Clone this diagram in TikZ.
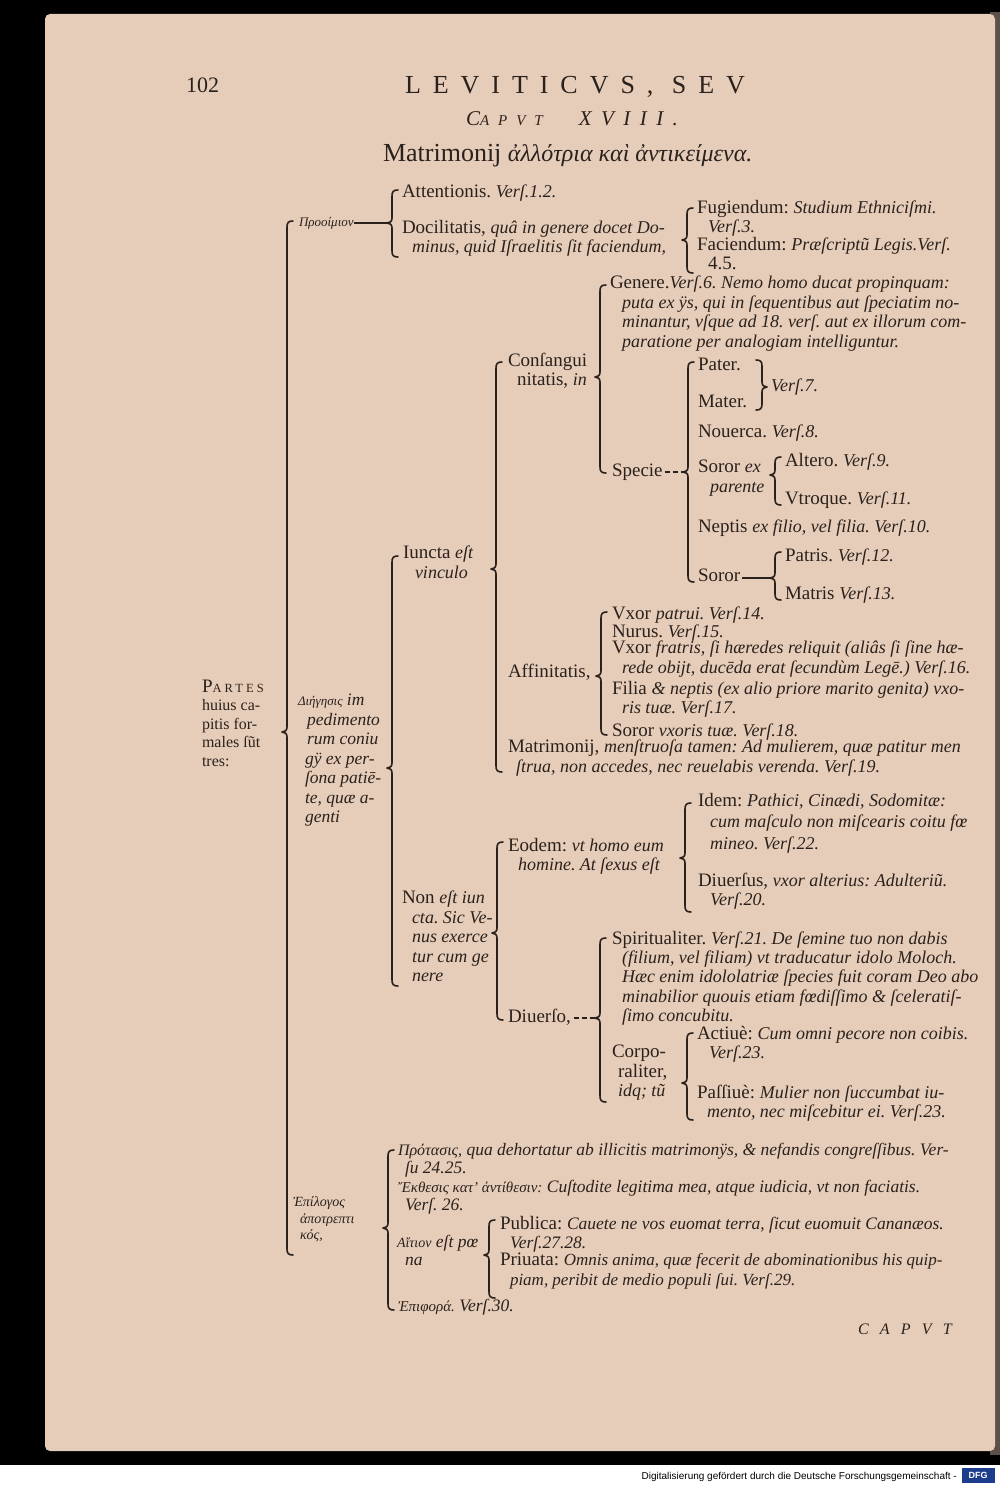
\documentclass[tikz,border=0pt]{standalone}
\usepackage{fontspec}
\setmainfont{Liberation Serif}
\newfontfamily\sansf{Liberation Sans}
\definecolor{ink}{HTML}{2B211C}
\definecolor{paper}{HTML}{E6CDB9}
\definecolor{edgec}{HTML}{5E5048}
\definecolor{dfgblue}{HTML}{1C3D8C}
\frenchspacing
\newcommand\I[1]{{\itshape\fontsize{18}{19.5}\selectfont #1}}
\newcommand\brL[5]{%
 \draw[brk] (#2+6,#3) .. controls (#2+1.5,#3) and (#2,#3+1.5) .. (#2,#3+6) -- (#2,#4-5)
  .. controls (#2,#4-1.5) and (#2-2,#4) .. (#2-5,#4)
  .. controls (#2-2,#4) and (#2,#4+1.5) .. (#2,#4+5) -- (#2,#5-6)
  .. controls (#2,#5-1.5) and (#2+1.5,#5) .. (#2+6,#5);
 \coordinate (#1) at (#2-5,#4);}
\newcommand\brR[5]{%
 \draw[brk] (#2-6,#3) .. controls (#2-1.5,#3) and (#2,#3+1.5) .. (#2,#3+6) -- (#2,#4-5)
  .. controls (#2,#4-1.5) and (#2+2,#4) .. (#2+5,#4)
  .. controls (#2+2,#4) and (#2,#4+1.5) .. (#2,#4+5) -- (#2,#5-6)
  .. controls (#2,#5-1.5) and (#2-1.5,#5) .. (#2-6,#5);
 \coordinate (#1) at (#2+5,#4);}
\tikzset{
 brk/.style={draw=ink, line width=1.6pt, line cap=round, line join=round},
 dl/.style={draw=ink, line width=1.3pt},
 tx/.style={anchor=north west, inner sep=0pt, outer sep=0pt, align=left, text=ink,
   font=\fontsize{19}{19.5}\selectfont, execute at begin node={\rule{0pt}{16pt}}},
 tb/.style={tx, font=\fontsize{17.5}{18.5}\selectfont\itshape},
 hd/.style={anchor=base west, inner sep=0pt, outer sep=0pt, text=ink}
}
\begin{document}
\begin{tikzpicture}[x=1pt,y=-1pt]
\useasboundingbox (0,0) rectangle (1000,1485);
\fill[black] (0,0) rectangle (1000,1465);
\fill[white] (0,1465) rectangle (1000,1485);
\fill[edgec] (990,12) rectangle (1000,1455);
\fill[paper, rounded corners=5pt] (45,14) rectangle (995,1451);
% footer
\node[anchor=base east, inner sep=0pt, font=\sansf\fontsize{10}{10}\selectfont] (ftr) at (957,1479) {Digitalisierung gefördert durch die Deutsche Forschungsgemeinschaft -};
\node[fill=dfgblue, text=white, font=\sansf\bfseries\fontsize{9}{9}\selectfont, minimum width=33pt, minimum height=15pt, inner sep=0pt] (dfg) at (978,1475) {DFG};
% header
\node[hd, font=\fontsize{22}{22}\selectfont] (pg) at (186,93) {102};
\node[hd, font=\fontsize{26}{26}\selectfont\addfontfeature{LetterSpace=46}] (ttl) at (405,94) {LEVITICVS, SEV};
\node[hd, font=\itshape\fontsize{21}{21}\selectfont] (cap) at (466,126) {C{\fontsize{15}{15}\selectfont\addfontfeature{LetterSpace=60}APVT}\hspace{36pt}{\addfontfeature{LetterSpace=45}XVIII.}};
\node[hd, font=\fontsize{26}{26}\selectfont] (mtit) at (383,161) {Matrimonij {\itshape\fontsize{24}{24}\selectfont ἀλλότρια καὶ ἀντικείμενα.}};
% level 0
\node[tx, font=\fontsize{16}{18.5}\selectfont] (partes) at (202,680) {{\fontsize{19}{18.5}\selectfont P}{\fontsize{12.5}{18.5}\selectfont\addfontfeature{LetterSpace=25}ARTES}\\ huius ca-\\ pitis for-\\ males ſũt\\ tres:};
\brL{bmain}{287}{221}{732}{1255}
% proemium
\node[tx, font=\itshape\fontsize{13}{15}\selectfont] (proo) at (299,210) {Προοίμιον};
\brL{bproo}{392}{190}{223}{257}
\draw[dl] (proo.east |- bproo) -- (bproo);
\node[tx] (att) at (402,181) {Attentionis. \I{Verſ.1.2.}};
\node[tx] (doc) at (402,220) {Docilitatis, \I{quâ in genere docet Do-}\\ \hspace*{10pt}\I{minus, quid Iſraelitis ſit faciendum,}};
\brL{bdoc}{687}{208}{240}{273}
\node[tx] (fug) at (697,200) {Fugiendum: \I{Studium Ethniciſmi.}\\ \hspace*{11pt}\I{Verſ.3.}};
\node[tx] (fac) at (697,237) {Faciendum: \I{Præſcriptũ Legis.Verſ.}\\ \hspace*{11pt}4.5.};
% narratio
\node[tx, font=\itshape\fontsize{17.5}{19.5}\selectfont] (dieg) at (298,694) {{\fontsize{13}{19.5}\selectfont Διήγησις} im\\ \hspace*{9pt}pedimento\\ \hspace*{9pt}rum coniu\\ \hspace*{7pt}gÿ ex per-\\ \hspace*{7pt}ſona patiē-\\ \hspace*{7pt}te, quæ a-\\ \hspace*{7pt}genti};
\brL{bdieg}{392}{556}{768}{986}
\node[tx] (iun) at (403,546) {Iuncta \I{eſt}\\ \hspace*{12pt}\I{vinculo}};
\brL{biun}{496}{362}{569}{772}
\node[tx] (non) at (402,891) {Non \I{eſt iun}\\ \hspace*{10pt}\I{cta. Sic Ve-}\\ \hspace*{10pt}\I{nus exerce}\\ \hspace*{10pt}\I{tur cum ge}\\ \hspace*{10pt}\I{nere}};
\brL{bnon}{497}{842}{933}{1020}
% consanguinitas
\node[tx] (cons) at (508,353) {Conſangui\\ \hspace*{9pt}nitatis, \I{in}};
\brL{bcons}{600}{285}{377}{473}
\node[tx] (gen) at (610,276) {Genere.\I{Verſ.6. Nemo homo ducat propinquam:}\\ \hspace*{12pt}\I{puta ex ÿs, qui in ſequentibus aut ſpeciatim no-}\\ \hspace*{12pt}\I{minantur, vſque ad 18. verſ. aut ex illorum com-}\\ \hspace*{12pt}\I{paratione per analogiam intelliguntur.}};
\node[tx] (spec) at (612,460) {Specie};
\brL{bspec}{688}{362}{472}{582}
\draw[dl, dash pattern=on 5pt off 3pt] (spec.east |- bspec) ++(2,0) -- (bspec);
\node[tx] (pater) at (698,354) {Pater.};
\node[tx] (mater) at (698,391) {Mater.};
\brR{bpm}{762}{360}{387}{410}
\node[tx] (v7) at (771,375) {\I{Verſ.7.}};
\node[tx] (nou) at (698,421) {Nouerca. \I{Verſ.8.}};
\node[tx] (sor1) at (698,460) {Soror \I{ex}\\ \hspace*{12pt}\I{parente}};
\brL{bsor1}{775}{457}{475}{505}
\node[tx] (alt) at (785,450) {Altero. \I{Verſ.9.}};
\node[tx] (vtr) at (785,488) {Vtroque. \I{Verſ.11.}};
\node[tx] (nep) at (698,516) {Neptis \I{ex filio, vel filia. Verſ.10.}};
\node[tx] (sor2) at (698,565) {Soror};
\brL{bsor2}{775}{552}{578}{600}
\draw[dl] (sor2.east |- bsor2) ++(2,0) -- (bsor2);
\node[tx] (patr) at (785,545) {Patris. \I{Verſ.12.}};
\node[tx] (matr) at (785,583) {Matris \I{Verſ.13.}};
% affinitas
\node[tx] (aff) at (508,661) {Affinitatis,};
\brL{baff}{601}{612}{676}{735}
\node[tx] (vp) at (612,603) {Vxor \I{patrui. Verſ.14.}};
\node[tx] (nur) at (612,621) {Nurus. \I{Verſ.15.}};
\node[tx] (vf) at (612,641) {Vxor \I{fratris, ſi hæredes reliquit (aliâs ſi ſine hæ-}\\ \hspace*{10pt}\I{rede obijt, ducēda erat ſecundùm Legē.) Verſ.16.}};
\node[tx] (fil) at (612,681) {Filia \I{\& neptis (ex alio priore marito genita) vxo-}\\ \hspace*{10pt}\I{ris tuæ. Verſ.17.}};
\node[tx] (sv) at (612,720) {Soror \I{vxoris tuæ. Verſ.18.}};
\node[tx] (mat) at (508,740) {Matrimonij, \I{menſtruoſa tamen: Ad mulierem, quæ patitur men}\\ \hspace*{8pt}\I{ſtrua, non accedes, nec reuelabis verenda. Verſ.19.}};
% non iuncta
\node[tx] (eod) at (508,838) {Eodem: \I{vt homo eum}\\ \hspace*{10pt}\I{homine. At ſexus eſt}};
\brL{beod}{685}{803}{858}{912}
\node[tx, font=\fontsize{19}{21.5}\selectfont] (idem) at (698,793) {Idem: \I{Pathici, Cinædi, Sodomitæ:}\\ \hspace*{12pt}\I{cum maſculo non miſcearis coitu fœ}\\ \hspace*{12pt}\I{mineo. Verſ.22.}};
\node[tx] (diu) at (698,873) {Diuerſus, \I{vxor alterius: Adulteriũ.}\\ \hspace*{12pt}\I{Verſ.20.}};
\node[tx] (dvs) at (508,1006) {Diuerſo,};
\brL{bdvs}{600}{938}{1018}{1102}
\draw[dl, dash pattern=on 5pt off 3pt] (dvs.east |- bdvs) ++(3,0) -- (bdvs);
\node[tx, font=\fontsize{19}{19.3}\selectfont] (spir) at (612,931) {Spiritualiter. \I{Verſ.21. De ſemine tuo non dabis}\\ \hspace*{10pt}\I{(filium, vel filiam) vt traducatur idolo Moloch.}\\ \hspace*{10pt}\I{Hæc enim idololatriæ ſpecies fuit coram Deo abo}\\ \hspace*{10pt}\I{minabilior quouis etiam fœdiſſimo \& ſceleratiſ-}\\ \hspace*{10pt}\I{ſimo concubitu.}};
\node[tx] (corp) at (612,1045) {Corpo-\\ \hspace*{6pt}raliter,\\ \hspace*{6pt}\I{idq; tũ}};
\brL{bcorp}{687}{1033}{1083}{1120}
\node[tx] (act) at (697,1026) {Actiuè: \I{Cum omni pecore non coibis.}\\ \hspace*{12pt}\I{Verſ.23.}};
\node[tx] (pas) at (697,1085) {Paſſiuè: \I{Mulier non ſuccumbat iu-}\\ \hspace*{10pt}\I{mento, nec miſcebitur ei. Verſ.23.}};
% epilogus
\node[tx, font=\itshape\fontsize{14}{16.5}\selectfont] (epil) at (293,1197) {Ἐπίλογος\\ \hspace*{7pt}ἀποτρεπτι\\ \hspace*{7pt}κός,};
\brL{bepil}{388}{1150}{1228}{1310}
\node[tb] (prot) at (398,1143) {{\fontsize{16}{18.5}\selectfont Πρότασις,} qua dehortatur ab illicitis matrimonÿs, \& nefandis congreſſibus. Ver-\\ \hspace*{7pt}ſu 24.25.};
\node[tb] (ekth) at (398,1180) {{\fontsize{15}{18.5}\selectfont Ἔκθεσις κατ’ ἀντίθεσιν:} Cuſtodite legitima mea, atque iudicia, vt non faciatis.\\ \hspace*{7pt}Verſ. 26.};
\node[tb] (ait) at (397,1235) {{\fontsize{14}{18.5}\selectfont Αἴτιον} eſt pœ\\ \hspace*{8pt}na};
\brL{bait}{489}{1220}{1255}{1298}
\node[tx] (pub) at (500,1216) {Publica: {\itshape\fontsize{17.5}{19.5}\selectfont Cauete ne vos euomat terra, ſicut euomuit Cananæos.}\\ \hspace*{10pt}{\itshape\fontsize{17.5}{19.5}\selectfont Verſ.27.28.}};
\node[tx] (pri) at (500,1253) {Priuata: {\itshape\fontsize{17}{19.5}\selectfont Omnis anima, quæ fecerit de abominationibus his quip-}\\ \hspace*{10pt}{\itshape\fontsize{17}{19.5}\selectfont piam, peribit de medio populi ſui. Verſ.29.}};
\node[tb] (epi) at (398,1295) {{\fontsize{15}{18.5}\selectfont Ἐπιφορά.} Verſ.30.};
\node[hd, font=\itshape\fontsize{16}{16}\selectfont] (cap2) at (858,1334) {\addfontfeature{LetterSpace=70}CAPVT};
\end{tikzpicture}
\end{document}
